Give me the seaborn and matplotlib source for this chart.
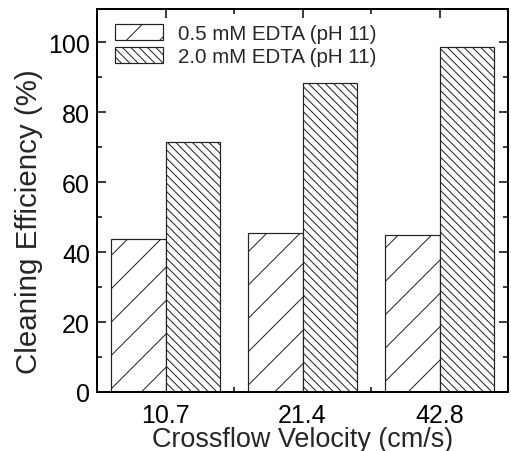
import numpy as np
import pandas as pd
import matplotlib
matplotlib.use("Agg")
import matplotlib.pyplot as plt
import seaborn as sns
from matplotlib.ticker import MultipleLocator

# ==================== DATA ====================
velocities = ["10.7", "21.4", "42.8"]
series_names = ["0.5 mM EDTA (pH 11)", "2.0 mM EDTA (pH 11)"]
eff_05 = [43.7, 45.5, 44.9]
eff_20 = [71.5, 88.4, 98.5]

DPI = 100
W, H = 511, 452

def pt(px):
    return px * 72.0 / DPI

df = pd.DataFrame({
    "velocity": velocities * 2,
    "series": [series_names[0]] * 3 + [series_names[1]] * 3,
    "eff": eff_05 + eff_20,
})

sns.set_theme(style="ticks")
plt.rcParams["font.family"] = ["Liberation Sans", "DejaVu Sans"]
plt.rcParams["hatch.linewidth"] = pt(1.0)
plt.rcParams["hatch.color"] = "#222222"

fig = plt.figure(figsize=(W / DPI, H / DPI), dpi=DPI)
ax = fig.add_axes([97 / W, 59 / H, 411 / W, 383 / H])

sns.barplot(data=df, x="velocity", y="eff", hue="series", order=velocities,
            hue_order=series_names, palette=["white", "white"],
            edgecolor="#222222", linewidth=pt(1.2), width=0.8, ax=ax,
            legend=False, errorbar=None)

hatches = ["/", "\\\\\\\\"]
for cont, h in zip(ax.containers, hatches):
    for bar in cont:
        bar.set_hatch(h)

# legend built from the hatched bars
handles = [cont[0] for cont in ax.containers]
ax.legend(handles, series_names, loc="upper left", frameon=False,
          fontsize=pt(20.5), handlelength=2.35, handleheight=0.8,
          handletextpad=0.7, labelspacing=0.2, borderpad=0,
          bbox_to_anchor=(18 / 411, 1 - 15 / 383), borderaxespad=0)

ax.set_xlim(-0.5, 2.5)
ax.set_ylim(0, 109.5)
ax.yaxis.set_major_locator(MultipleLocator(20))
ax.yaxis.set_minor_locator(MultipleLocator(10))
ax.set_xticks([0, 1, 2], minor=False)
ax.set_xticks([0.5, 1.5], minor=True)

ax.set_xlabel("Crossflow Velocity (cm/s)", fontsize=pt(27))
ax.xaxis.set_label_coords(0.5, -34 / 383)
ax.set_ylabel("Cleaning Efficiency (%)", fontsize=pt(29.5))
ax.yaxis.set_label_coords(-54 / 411, 0.447)

ax.tick_params(axis="both", which="both", direction="in", top=True, right=True,
               width=pt(1.5), colors="black", labelsize=pt(25))
ax.tick_params(axis="both", which="major", length=pt(9))
ax.tick_params(axis="both", which="minor", length=pt(5))
ax.tick_params(axis="y", which="major", pad=pt(7))
ax.tick_params(axis="x", which="major", pad=pt(11))

for side in ["left", "bottom", "top", "right"]:
    ax.spines[side].set_linewidth(pt(2))
    ax.spines[side].set_color("black")

fig.savefig("out.png", dpi=DPI)
